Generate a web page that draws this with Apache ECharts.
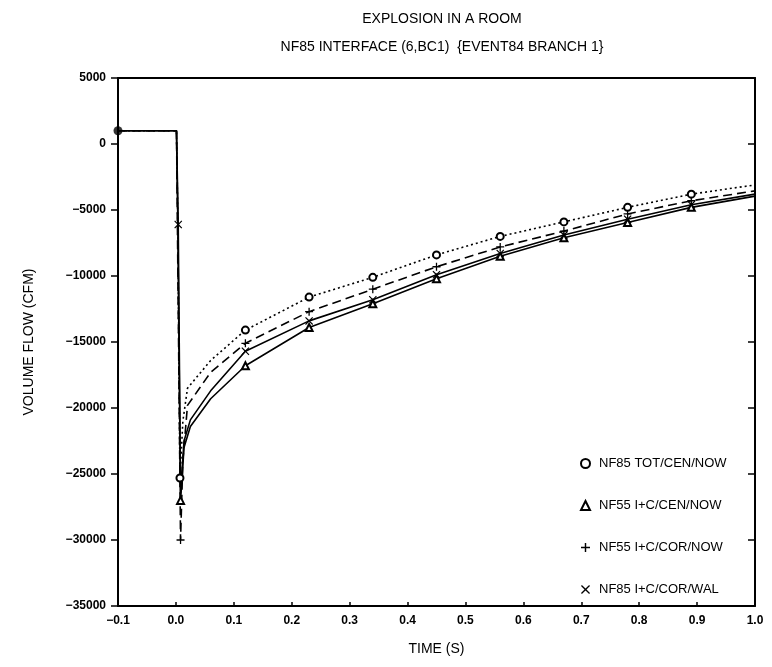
<!DOCTYPE html>
<html><head><meta charset="utf-8">
<script src="https://cdn.jsdelivr.net/npm/echarts@6/dist/echarts.min.js"></script>
<style>html,body{margin:0;padding:0;background:#fff}#c{width:772px;height:667px}</style>
</head><body><div id="c"></div>
<script>
const titleText = "EXPLOSION IN A ROOM";
const subtitleText = "NF85 INTERFACE (6,BC1)  {EVENT84 BRANCH 1}";
const xName = "TIME (S)";
const yName = "VOLUME FLOW (CFM)";
const seriesNames = ["NF85 TOT/CEN/NOW", "NF55 I+C/CEN/NOW", "NF55 I+C/COR/NOW", "NF85 I+C/COR/WAL"];

const t1 = [-0.1, 0.001, 0.003, 0.007, 0.012, 0.02, 0.06, 0.12, 0.23, 0.34, 0.45, 0.56, 0.67, 0.78, 0.89, 1.0];
const v1 = [1000, 1000, -5000, -25300, -21000, -18500, -16400, -14100, -11600, -10100, -8400, -7000, -5900, -4800, -3800, -3100];
const t2 = [-0.1, 0.001, 0.003, 0.008, 0.014, 0.025, 0.06, 0.12, 0.23, 0.34, 0.45, 0.56, 0.67, 0.78, 0.89, 1.0];
const v2 = [1000, 1000, -5000, -27000, -23000, -21400, -19300, -16800, -13900, -12100, -10200, -8500, -7100, -5950, -4800, -3950];
const t3 = [-0.1, 0.001, 0.003, 0.008, 0.012, 0.02, 0.06, 0.12, 0.23, 0.34, 0.45, 0.56, 0.67, 0.78, 0.89, 1.0];
const v3 = [1000, 1000, -8000, -30000, -24000, -19800, -17300, -15100, -12700, -11000, -9300, -7800, -6600, -5300, -4300, -3550];
const t4 = [-0.1, 0.001, 0.004, 0.008, 0.014, 0.025, 0.06, 0.12, 0.23, 0.34, 0.45, 0.56, 0.67, 0.78, 0.89, 1.0];
const v4 = [1000, 1000, -6100, -26500, -22500, -20900, -18700, -15700, -13400, -11800, -9900, -8300, -6900, -5700, -4600, -3800];
const markerTimes1 = [0.007, 0.12, 0.23, 0.34, 0.45, 0.56, 0.67, 0.78, 0.89];
const markerTimes2 = [0.008, 0.12, 0.23, 0.34, 0.45, 0.56, 0.67, 0.78, 0.89];
const markerTimes3 = [0.008, 0.12, 0.23, 0.34, 0.45, 0.56, 0.67, 0.78, 0.89];
const markerTimes4 = [0.004, 0.12, 0.23, 0.34, 0.45, 0.56, 0.67, 0.78, 0.89];
const startPoint = [[-0.1, 1000]];
const xTicks = [-0.1, 0.0, 0.1, 0.2, 0.3, 0.4, 0.5, 0.6, 0.7, 0.8, 0.9, 1.0];
const yTicks = [5000, 0, -5000, -10000, -15000, -20000, -25000, -30000, -35000];

const FONT = "Liberation Sans";
const plusPath = 'path://M4.2,0H5.8V10H4.2ZM0,4.2H10V5.8H0Z';
const xPath = 'path://M1,0L5,3.9L9,0L10,1L6.1,5L10,9L9,10L5,6.1L1,10L0,9L3.9,5L0,1Z';
const symbols = ['emptyCircle', 'emptyTriangle', plusPath, xPath];
const lineTypes = [[2, 3], 'solid', [9, 5], 'solid'];
const ts = [t1, t2, t3, t4], vs = [v1, v2, v3, v4];
const mks = [markerTimes1, markerTimes2, markerTimes3, markerTimes4];

const pair = (t, v) => t.map((x, i) => [x, v[i]]);

const series = seriesNames.map((name, k) => ({
  name, type: 'line', xAxisIndex: 0, yAxisIndex: 0,
  data: pair(ts[k], vs[k]),
  symbol: (val) => mks[k].includes(val[0]) ? symbols[k] : 'none',
  symbolSize: k >= 2 ? 8 : 7,
  showAllSymbol: true,
  lineStyle: { color: '#000', width: 1.6, type: lineTypes[k] },
  itemStyle: { color: '#000', borderWidth: 1.5 },
  z: 3
}));
series.push({
  type: 'scatter', data: startPoint, symbol: 'circle', symbolSize: 9,
  itemStyle: { color: '#000' }, z: 5
});

const chart = echarts.init(document.getElementById('c'), null, { renderer: 'canvas' });
chart.setOption({
  backgroundColor: '#fff',
  animation: false,
  textStyle: { fontFamily: FONT, color: '#000' },
  title: [
    { text: titleText, left: 437, top: 7, textAlign: 'center',
      textStyle: { fontFamily: FONT, fontSize: 14, fontWeight: 'normal', color: '#000' } },
    { text: subtitleText, left: 437, top: 35, textAlign: 'center',
      textStyle: { fontFamily: FONT, fontSize: 14, fontWeight: 'normal', color: '#000' } }
  ],
  legend: {
    orient: 'vertical', left: 575, top: 452, itemGap: 29, itemWidth: 9, itemHeight: 9,
    textStyle: { fontFamily: FONT, fontSize: 13, color: '#000', padding: [0, 0, 0, 4] },
    data: seriesNames.map((n, k) => ({
      name: n, icon: symbols[k],
      itemStyle: { color: '#000', borderWidth: k >= 2 ? 0 : 1.3 }
    }))
  },
  grid: { left: 118, right: 17, top: 78, bottom: 61 },
  xAxis: [
    { type: 'value', min: xTicks[0], max: xTicks[xTicks.length - 1], interval: 0.1,
      name: xName, nameLocation: 'middle', nameGap: 36,
      nameTextStyle: { fontFamily: FONT, fontSize: 14, color: '#000' },
      axisLine: { show: true, onZero: false, lineStyle: { color: '#000', width: 2 } },
      axisTick: { show: true, inside: true, length: 4, lineStyle: { color: '#000', width: 1.5 } },
      axisLabel: { margin: 9, fontFamily: FONT, fontSize: 12, fontWeight: 'bold', color: '#000',
        formatter: (v) => (v < -1e-9 ? '\u2212' : '') + Math.abs(v).toFixed(1) },
      splitLine: { show: false } },
    { type: 'value', position: 'top', min: xTicks[0], max: xTicks[xTicks.length - 1], interval: 0.1,
      axisLine: { show: true, onZero: false, lineStyle: { color: '#000', width: 2 } },
      axisTick: { show: false }, axisLabel: { show: false }, splitLine: { show: false } }
  ],
  yAxis: [
    { type: 'value', min: yTicks[yTicks.length - 1], max: yTicks[0], interval: 5000,
      name: yName, nameLocation: 'middle', nameGap: 82, nameRotate: 90,
      nameTextStyle: { fontFamily: FONT, fontSize: 14, color: '#000' },
      axisLine: { show: true, onZero: false, lineStyle: { color: '#000', width: 2 } },
      axisTick: { show: true, inside: false, length: 7, lineStyle: { color: '#000', width: 1.5 } },
      axisLabel: { margin: 12, fontFamily: FONT, fontSize: 12, fontWeight: 'bold', color: '#000',
        formatter: (v) => (v < 0 ? '\u2212' + Math.abs(v) : String(v)) },
      splitLine: { show: false } },
    { type: 'value', position: 'right', min: yTicks[yTicks.length - 1], max: yTicks[0], interval: 5000,
      axisLine: { show: true, onZero: false, lineStyle: { color: '#000', width: 2 } },
      axisTick: { show: true, inside: true, length: 7, lineStyle: { color: '#000', width: 1.5 } },
      axisLabel: { show: false }, splitLine: { show: false } }
  ],
  series
});
</script>
</body></html>
